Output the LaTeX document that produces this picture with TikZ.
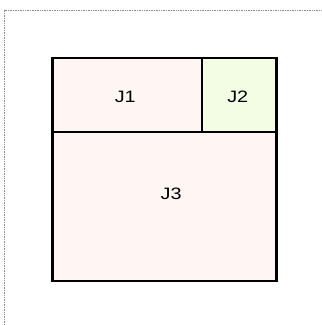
\documentclass[tikz,border=0pt]{standalone}
\usepackage{fontspec}
\setmainfont{Liberation Sans}
\definecolor{pinkfill}{HTML}{FFF5F3}
\definecolor{greenfill}{HTML}{F3FDE3}
\definecolor{framegray}{HTML}{8A8A8A}
\newcommand{\widetxt}[1]{\scalebox{1.2}[1]{#1}}
\begin{document}
\begin{tikzpicture}[x=1pt,y=-1pt,
  cell/.style={draw=black,line width=2.3pt},
  lbl/.style={font=\fontsize{16.5}{18}\selectfont,inner sep=0pt}]
\useasboundingbox (0,0) rectangle (322,325);
\draw[framegray,dash pattern=on 1pt off 0.7pt,line width=1pt] (4.5,325) -- (4.5,10.5) -- (322,10.5);
\path[cell,fill=pinkfill] (52.5,58) rectangle (202,132);
\path[cell,fill=greenfill] (202,58) rectangle (276.5,132);
\path[cell,fill=pinkfill] (52.5,132) rectangle (276.5,281);
\node[lbl] (j1) at (125.3,97.3) {\widetxt{J1}};
\node[lbl] (j2) at (237.8,97.3) {\widetxt{J2}};
\node[lbl] (j3) at (171.2,193.8) {\widetxt{J3}};
\end{tikzpicture}
\end{document}
